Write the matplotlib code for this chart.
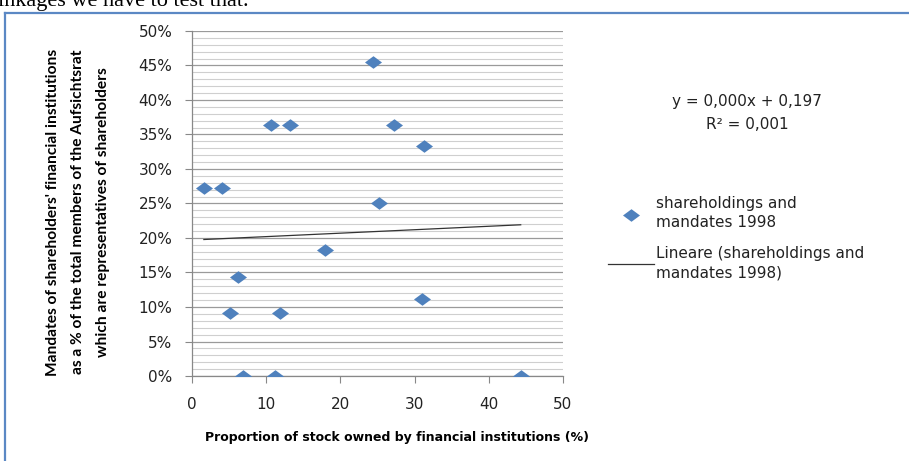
import matplotlib
matplotlib.use("Agg")
import matplotlib.pyplot as plt
import numpy as np
from matplotlib.lines import Line2D
from matplotlib.path import Path
from matplotlib.ticker import MultipleLocator, PercentFormatter

# ---- data ----
stock_share = [24.4, 10.6, 13.2, 27.2, 31.2, 1.6, 4.0, 25.2, 17.9, 6.2,
               31.0, 5.1, 11.9, 6.9, 11.2, 44.3]
mandates = [0.455, 0.364, 0.364, 0.364, 0.333, 0.273, 0.273, 0.250, 0.182, 0.143,
            0.111, 0.091, 0.091, 0.0, 0.0, 0.0]
trend_slope = 0.0005
trend_intercept = 0.197
series_label = "shareholdings and\nmandates 1998"
trend_label = "Lineare (shareholdings and\nmandates 1998)"
equation_text = "y = 0,000x + 0,197\nR² = 0,001"
x_label = "Proportion of stock owned by financial institutions (%)"
y_label = ("Mandates of shareholders' financial institutions\n"
           "as a % of the total members of the Aufsichtsrat\n"
           "which are representatives of shareholders")
header_text = "inkages we have to test that."

W, H = 909, 461
fig = plt.figure(figsize=(W / 100, H / 100), dpi=100)
ax = fig.add_axes([192 / W, 85 / H, 371 / W, 345 / H])

blue = "#4F81BD"
diamond = Path([(-1, 0), (0, 0.74), (1, 0), (0, -0.74), (-1, 0)],
               [Path.MOVETO, Path.LINETO, Path.LINETO, Path.LINETO, Path.CLOSEPOLY])

ax.set_xlim(0, 50)
ax.set_ylim(0, 0.5)
ax.yaxis.set_major_locator(MultipleLocator(0.05))
ax.yaxis.set_minor_locator(MultipleLocator(0.01))
ax.xaxis.set_major_locator(MultipleLocator(10))
ax.yaxis.set_major_formatter(PercentFormatter(1.0, decimals=0))

ax.grid(axis="y", which="major", color="#9A9A9A", linewidth=0.9)
ax.grid(axis="y", which="minor", color="#CFCFCF", linewidth=0.8)
ax.set_axisbelow(True)

for s in ["top", "right"]:
    ax.spines[s].set_visible(False)
for s in ["left", "bottom"]:
    ax.spines[s].set_color("#888888")
    ax.spines[s].set_linewidth(0.9)

ax.tick_params(axis="y", which="major", length=5, color="#888888", pad=9,
               labelsize=11, labelcolor="#222222")
ax.tick_params(axis="y", which="minor", length=0)
ax.tick_params(axis="x", which="major", length=5, color="#888888", pad=10,
               labelsize=11, labelcolor="#222222")
for lab in ax.get_xticklabels() + ax.get_yticklabels():
    lab.set_fontfamily("DejaVu Sans")

sc = ax.scatter(stock_share, mandates, marker=diamond, s=150, color=blue,
                linewidths=0, zorder=3, label=series_label)

xt = np.array([min(stock_share), max(stock_share)])
tl, = ax.plot(xt, trend_slope * xt + trend_intercept, color="#333333",
              linewidth=0.9, zorder=2, label=trend_label)

ax.set_xlabel(x_label, fontsize=9, fontweight="bold", family="DejaVu Sans",
              va="center")
ax.xaxis.set_label_coords((397 - 192) / 371, -61 / 345)

ax.set_ylabel(y_label, fontsize=11.2, fontweight="bold",
              family=["Lato", "DejaVu Sans"],
              va="center", ha="center", linespacing=2.0)
ax.yaxis.set_label_coords(-(192 - 78) / 371, (376 - 212) / 345)

fig.text(747 / W, 1 - 113 / H, equation_text, ha="center", va="center",
         fontsize=11, family="DejaVu Sans", color="#222222", linespacing=1.65)

leg = fig.legend(handles=[sc, tl], labels=[series_label, trend_label],
                 loc="upper left", bbox_to_anchor=(608 / W, 1 - 196 / H),
                 frameon=False, fontsize=11, handlelength=3.0,
                 handletextpad=0.15, labelspacing=1.05, borderpad=0,
                 borderaxespad=0, scatterpoints=1)
for t in leg.get_texts():
    t.set_color("#222222")
    t.set_fontfamily("DejaVu Sans")
    t.set_linespacing(1.35)

# page decorations: border frame and clipped header text of the document scan
fig.add_artist(Line2D([5 / W, 5 / W], [0, 1 - 13 / H], color="#5B88C4",
                      linewidth=1.6, transform=fig.transFigure))
fig.add_artist(Line2D([5 / W, 1], [1 - 13 / H, 1 - 13 / H], color="#5B88C4",
                      linewidth=1.6, transform=fig.transFigure))
fig.text(-2 / W, 1 - 6 / H, header_text, fontsize=16, family="Liberation Serif",
         va="baseline", ha="left", color="black")

fig.savefig("out.png", dpi=100)
